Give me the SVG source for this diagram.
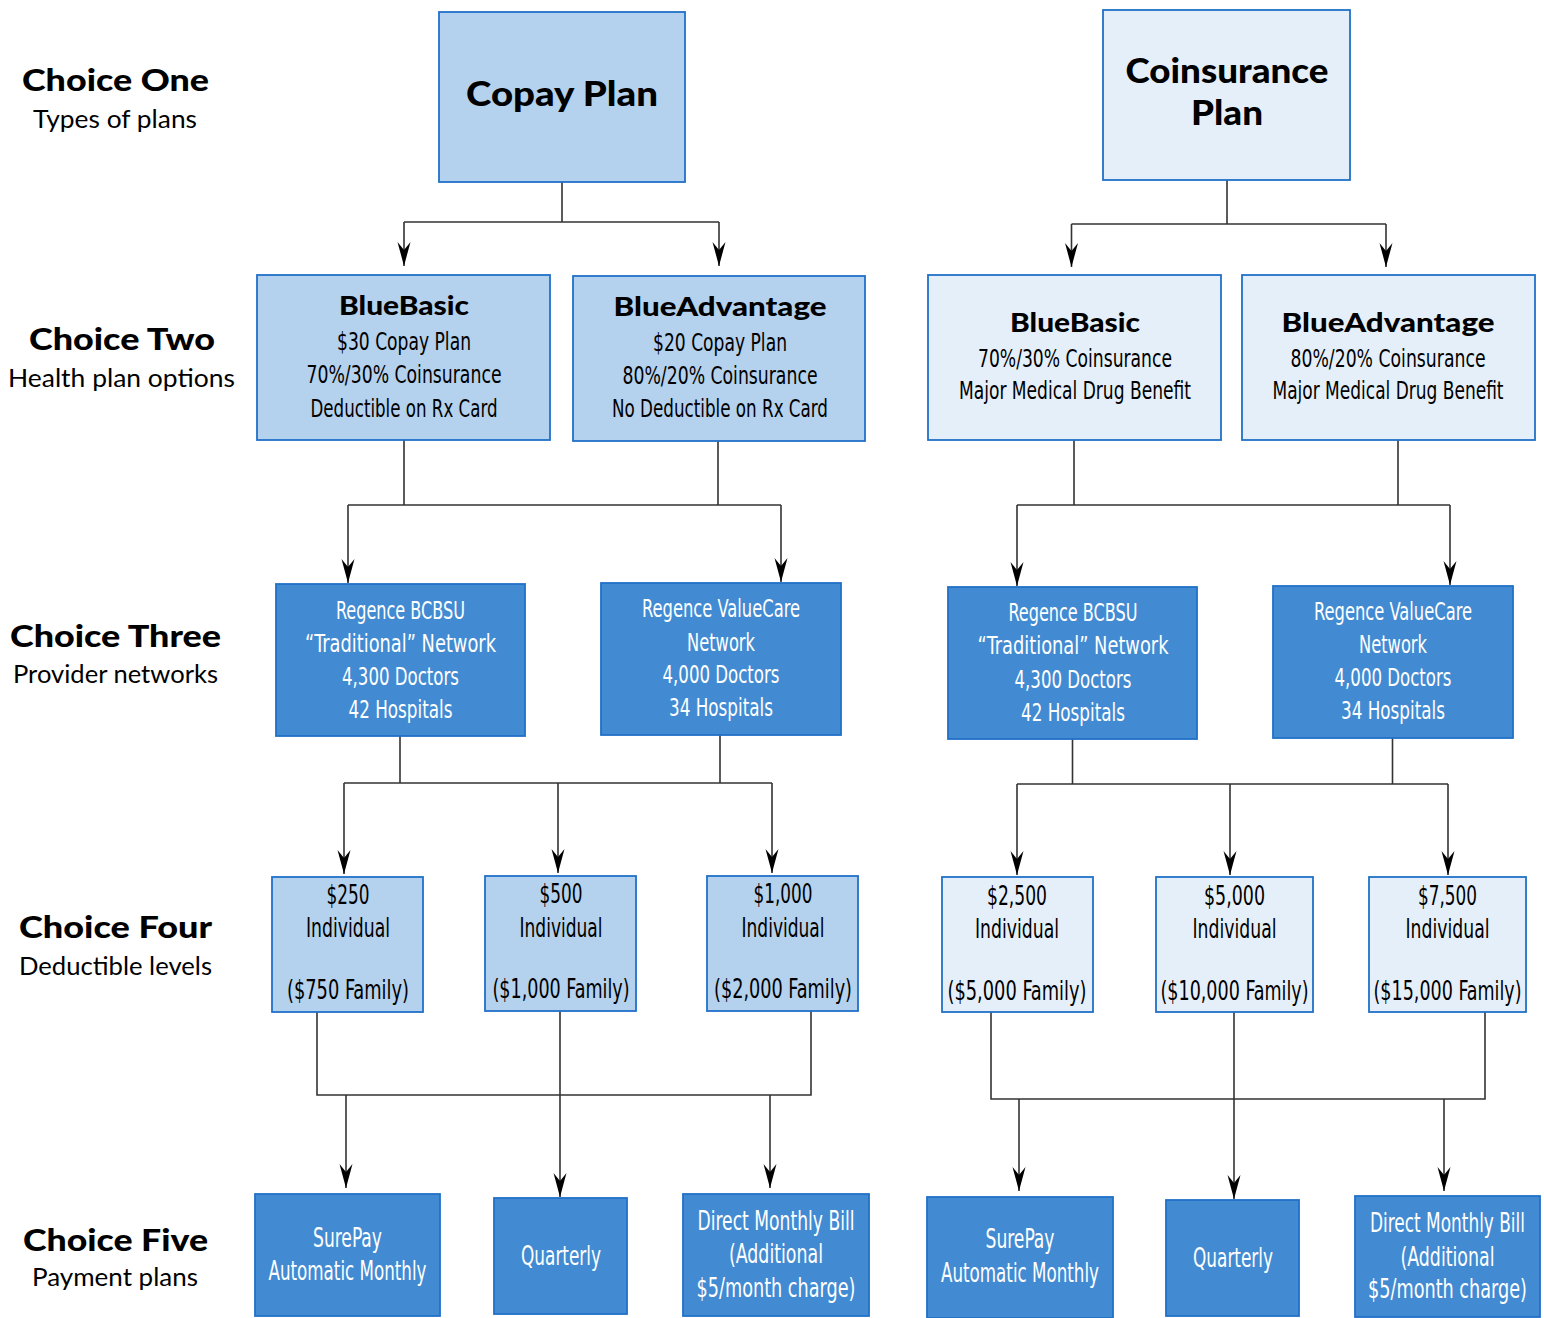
<svg xmlns="http://www.w3.org/2000/svg" width="1544" height="1318" viewBox="0 0 1544 1318">
<defs>
<style>
.bg{fill:#ffffff}
.lt{fill:#b4d1ed;stroke:#2170c8;stroke-width:1.8}
.vl{fill:#e5eff9;stroke:#2170c8;stroke-width:1.8}
.dk{fill:#428bd2;stroke:#2170c8;stroke-width:1.8}
text{text-anchor:middle}
.hb{font-family:"Lato","DejaVu Sans",sans-serif;font-weight:900;fill:#000}
.h1{font-size:34px}
.h2{font-size:27px}
.lab{font-size:30px}
.rg{font-family:"Lato","Liberation Sans",sans-serif;font-weight:400;font-size:25px;fill:#000}
.cd{font-family:"Liberation Sans Narrow","DejaVu Sans Condensed","Roboto Condensed","Liberation Sans",sans-serif;font-stretch:condensed;font-size:25px;fill:#000}
.c4{font-size:26px}
.w{fill:#ffffff}
.cn{fill:none;stroke:#333333;stroke-width:1.6}
</style>
<marker id="ah" viewBox="-25 -7 26 14" refX="0" refY="0" markerWidth="26" markerHeight="14" markerUnits="userSpaceOnUse" orient="auto">
<path d="M0,0 L-24,-6.5 L-16,0 L-24,6.5 Z" fill="#000"/>
</marker>
</defs>
<rect class="bg" x="0" y="0" width="1544" height="1318"/>

<g id="labels">
<g id="label-choice-one">
<text class="hb lab" x="115.5" y="91" textLength="187" lengthAdjust="spacingAndGlyphs">Choice One</text>
<text class="rg" x="115" y="128" textLength="164" lengthAdjust="spacingAndGlyphs">Types of plans</text>
</g>
<g id="label-choice-two">
<text class="hb lab" x="122" y="350" textLength="186" lengthAdjust="spacingAndGlyphs">Choice Two</text>
<text class="rg" x="121.5" y="387" textLength="227" lengthAdjust="spacingAndGlyphs">Health plan options</text>
</g>
<g id="label-choice-three">
<text class="hb lab" x="115.5" y="647" textLength="211" lengthAdjust="spacingAndGlyphs">Choice Three</text>
<text class="rg" x="115.5" y="683" textLength="205" lengthAdjust="spacingAndGlyphs">Provider networks</text>
</g>
<g id="label-choice-four">
<text class="hb lab" x="115.5" y="938" textLength="193" lengthAdjust="spacingAndGlyphs">Choice Four</text>
<text class="rg" x="115.5" y="975" textLength="193" lengthAdjust="spacingAndGlyphs">Deductible levels</text>
</g>
<g id="label-choice-five">
<text class="hb lab" x="115.5" y="1251" textLength="185" lengthAdjust="spacingAndGlyphs">Choice Five</text>
<text class="rg" x="115" y="1286" textLength="166" lengthAdjust="spacingAndGlyphs">Payment plans</text>
</g>
</g>

<g id="connectors">
<path class="cn" d="M562,182 V222 M404,222 H719"/>
<path class="cn" marker-end="url(#ah)" d="M404,222 V266"/>
<path class="cn" marker-end="url(#ah)" d="M719,222 V266"/>
<path class="cn" d="M1227,180 V224 M1071.5,224 H1386"/>
<path class="cn" marker-end="url(#ah)" d="M1071.5,224 V267"/>
<path class="cn" marker-end="url(#ah)" d="M1386,224 V267"/>
<path class="cn" d="M404,440 V505 M718,441 V505 M348,505 H781"/>
<path class="cn" marker-end="url(#ah)" d="M348,505 V583"/>
<path class="cn" marker-end="url(#ah)" d="M781,505 V582"/>
<path class="cn" d="M1074,440 V505 M1398,440 V505 M1017,505 H1450"/>
<path class="cn" marker-end="url(#ah)" d="M1017,505 V586"/>
<path class="cn" marker-end="url(#ah)" d="M1450,505 V585"/>
<path class="cn" d="M400,736 V783 M720,735 V783 M344,783 H772"/>
<path class="cn" marker-end="url(#ah)" d="M344,783 V874"/>
<path class="cn" marker-end="url(#ah)" d="M558,783 V873"/>
<path class="cn" marker-end="url(#ah)" d="M772,783 V873"/>
<path class="cn" d="M1072.5,739 V784 M1392.5,738 V784 M1017,784 H1448"/>
<path class="cn" marker-end="url(#ah)" d="M1017,784 V875"/>
<path class="cn" marker-end="url(#ah)" d="M1230,784 V875"/>
<path class="cn" marker-end="url(#ah)" d="M1448,784 V875"/>
<path class="cn" d="M317,1012 V1095 H811 V1011"/>
<path class="cn" marker-end="url(#ah)" d="M346,1095 V1188"/>
<path class="cn" marker-end="url(#ah)" d="M560,1011 V1197"/>
<path class="cn" marker-end="url(#ah)" d="M770,1095 V1188"/>
<path class="cn" d="M991,1012 V1099 H1485 V1012"/>
<path class="cn" marker-end="url(#ah)" d="M1019,1099 V1191"/>
<path class="cn" marker-end="url(#ah)" d="M1234,1012 V1199"/>
<path class="cn" marker-end="url(#ah)" d="M1444,1099 V1191"/>
</g>

<g id="copay-plan">
<rect class="lt" x="439" y="12" width="246" height="170"/>
<text class="hb h1" x="562" y="106" textLength="192" lengthAdjust="spacingAndGlyphs">Copay Plan</text>
</g>
<g id="coinsurance-plan">
<rect class="vl" x="1103" y="10" width="247" height="170"/>
<text class="hb h1" x="1227" y="83" textLength="203" lengthAdjust="spacingAndGlyphs">Coinsurance</text>
<text class="hb h1" x="1227" y="125" textLength="72" lengthAdjust="spacingAndGlyphs">Plan</text>
</g>

<g id="copay-bluebasic">
<rect class="lt" x="257" y="275" width="293" height="165"/>
<text class="hb h2" x="404" y="315" textLength="130" lengthAdjust="spacingAndGlyphs">BlueBasic</text>
<text class="cd" x="404" y="350" textLength="134" lengthAdjust="spacingAndGlyphs">$30 Copay Plan</text>
<text class="cd" x="404" y="383" textLength="195" lengthAdjust="spacingAndGlyphs">70%/30% Coinsurance</text>
<text class="cd" x="404" y="417" textLength="187" lengthAdjust="spacingAndGlyphs">Deductible on Rx Card</text>
</g>
<g id="copay-blueadvantage">
<rect class="lt" x="573" y="276" width="292" height="165"/>
<text class="hb h2" x="720" y="316" textLength="213" lengthAdjust="spacingAndGlyphs">BlueAdvantage</text>
<text class="cd" x="720" y="351" textLength="134" lengthAdjust="spacingAndGlyphs">$20 Copay Plan</text>
<text class="cd" x="720" y="384" textLength="195" lengthAdjust="spacingAndGlyphs">80%/20% Coinsurance</text>
<text class="cd" x="720" y="417" textLength="216" lengthAdjust="spacingAndGlyphs">No Deductible on Rx Card</text>
</g>
<g id="coins-bluebasic">
<rect class="vl" x="928" y="275" width="293" height="165"/>
<text class="hb h2" x="1075" y="332" textLength="130" lengthAdjust="spacingAndGlyphs">BlueBasic</text>
<text class="cd" x="1075" y="367" textLength="194" lengthAdjust="spacingAndGlyphs">70%/30% Coinsurance</text>
<text class="cd" x="1075" y="399" textLength="232" lengthAdjust="spacingAndGlyphs">Major Medical Drug Benefit</text>
</g>
<g id="coins-blueadvantage">
<rect class="vl" x="1242" y="275" width="293" height="165"/>
<text class="hb h2" x="1388" y="332" textLength="213" lengthAdjust="spacingAndGlyphs">BlueAdvantage</text>
<text class="cd" transform="translate(1388,367) scale(0.7,1)" x="0" y="0" textLength="278.6" lengthAdjust="spacingAndGlyphs">80%/20% Coinsurance</text>
<text class="cd" transform="translate(1388,399) scale(0.7,1)" x="0" y="0" textLength="330" lengthAdjust="spacingAndGlyphs">Major Medical Drug Benefit</text>
</g>

<g id="copay-traditional-network">
<rect class="dk" x="276" y="584" width="249" height="152"/>
<text class="cd w" x="400.5" y="619" textLength="129" lengthAdjust="spacingAndGlyphs">Regence BCBSU</text>
<text class="cd w" x="400.5" y="652" textLength="191" lengthAdjust="spacingAndGlyphs">“Traditional” Network</text>
<text class="cd w" x="400.5" y="685" textLength="117" lengthAdjust="spacingAndGlyphs">4,300 Doctors</text>
<text class="cd w" x="400.5" y="718" textLength="104" lengthAdjust="spacingAndGlyphs">42 Hospitals</text>
</g>
<g id="copay-valuecare-network">
<rect class="dk" x="601" y="583" width="240" height="152"/>
<text class="cd w" x="721" y="617" textLength="158" lengthAdjust="spacingAndGlyphs">Regence ValueCare</text>
<text class="cd w" x="721" y="651" textLength="68" lengthAdjust="spacingAndGlyphs">Network</text>
<text class="cd w" x="721" y="683" textLength="117" lengthAdjust="spacingAndGlyphs">4,000 Doctors</text>
<text class="cd w" x="721" y="716" textLength="104" lengthAdjust="spacingAndGlyphs">34 Hospitals</text>
</g>
<g id="coins-traditional-network">
<rect class="dk" x="948" y="587" width="249" height="152"/>
<text class="cd w" x="1073" y="621" textLength="129" lengthAdjust="spacingAndGlyphs">Regence BCBSU</text>
<text class="cd w" x="1073" y="654" textLength="191" lengthAdjust="spacingAndGlyphs">“Traditional” Network</text>
<text class="cd w" x="1073" y="688" textLength="117" lengthAdjust="spacingAndGlyphs">4,300 Doctors</text>
<text class="cd w" x="1073" y="721" textLength="104" lengthAdjust="spacingAndGlyphs">42 Hospitals</text>
</g>
<g id="coins-valuecare-network">
<rect class="dk" x="1273" y="586" width="240" height="152"/>
<text class="cd w" x="1393" y="620" textLength="158" lengthAdjust="spacingAndGlyphs">Regence ValueCare</text>
<text class="cd w" x="1393" y="653" textLength="68" lengthAdjust="spacingAndGlyphs">Network</text>
<text class="cd w" x="1393" y="686" textLength="117" lengthAdjust="spacingAndGlyphs">4,000 Doctors</text>
<text class="cd w" x="1393" y="719" textLength="104" lengthAdjust="spacingAndGlyphs">34 Hospitals</text>
</g>

<g id="ded-250">
<rect class="lt" x="272" y="877" width="151" height="135"/>
<text class="cd c4" x="348" y="904" textLength="43" lengthAdjust="spacingAndGlyphs">$250</text>
<text class="cd c4" x="348" y="937" textLength="84" lengthAdjust="spacingAndGlyphs">Individual</text>
<text class="cd c4" x="348" y="999" textLength="122" lengthAdjust="spacingAndGlyphs">($750 Family)</text>
</g>
<g id="ded-500">
<rect class="lt" x="485" y="876" width="151" height="135"/>
<text class="cd c4" x="561" y="903" textLength="43" lengthAdjust="spacingAndGlyphs">$500</text>
<text class="cd c4" x="561" y="937" textLength="83" lengthAdjust="spacingAndGlyphs">Individual</text>
<text class="cd c4" x="561" y="998" textLength="137" lengthAdjust="spacingAndGlyphs">($1,000 Family)</text>
</g>
<g id="ded-1000">
<rect class="lt" x="707" y="876" width="151" height="135"/>
<text class="cd c4" x="783" y="903" textLength="59" lengthAdjust="spacingAndGlyphs">$1,000</text>
<text class="cd c4" x="783" y="937" textLength="83" lengthAdjust="spacingAndGlyphs">Individual</text>
<text class="cd c4" x="783" y="998" textLength="138" lengthAdjust="spacingAndGlyphs">($2,000 Family)</text>
</g>
<g id="ded-2500">
<rect class="vl" x="942" y="877" width="151" height="135"/>
<text class="cd c4" x="1017" y="905" textLength="60" lengthAdjust="spacingAndGlyphs">$2,500</text>
<text class="cd c4" x="1017" y="938" textLength="84" lengthAdjust="spacingAndGlyphs">Individual</text>
<text class="cd c4" x="1017" y="1000" textLength="139" lengthAdjust="spacingAndGlyphs">($5,000 Family)</text>
</g>
<g id="ded-5000">
<rect class="vl" x="1156" y="877" width="157" height="135"/>
<text class="cd c4" x="1234.5" y="905" textLength="61" lengthAdjust="spacingAndGlyphs">$5,000</text>
<text class="cd c4" x="1234.5" y="938" textLength="84" lengthAdjust="spacingAndGlyphs">Individual</text>
<text class="cd c4" x="1234.5" y="1000" textLength="148" lengthAdjust="spacingAndGlyphs">($10,000 Family)</text>
</g>
<g id="ded-7500">
<rect class="vl" x="1369" y="877" width="157" height="135"/>
<text class="cd c4" x="1447.5" y="905" textLength="59" lengthAdjust="spacingAndGlyphs">$7,500</text>
<text class="cd c4" x="1447.5" y="938" textLength="84" lengthAdjust="spacingAndGlyphs">Individual</text>
<text class="cd c4" transform="translate(1447.5,1000) scale(0.7,1)" x="0" y="0" textLength="211.4" lengthAdjust="spacingAndGlyphs">($15,000 Family)</text>
</g>

<g id="copay-surepay">
<rect class="dk" x="255" y="1194" width="185" height="122"/>
<text class="cd c4 w" x="347.5" y="1247" textLength="69" lengthAdjust="spacingAndGlyphs">SurePay</text>
<text class="cd c4 w" x="347.5" y="1280" textLength="158" lengthAdjust="spacingAndGlyphs">Automatic Monthly</text>
</g>
<g id="copay-quarterly">
<rect class="dk" x="494" y="1198" width="133" height="116"/>
<text class="cd c4 w" x="561" y="1265" textLength="80" lengthAdjust="spacingAndGlyphs">Quarterly</text>
</g>
<g id="copay-direct-bill">
<rect class="dk" x="683" y="1194" width="186" height="122"/>
<text class="cd c4 w" x="776" y="1230" textLength="157" lengthAdjust="spacingAndGlyphs">Direct Monthly Bill</text>
<text class="cd c4 w" x="776" y="1263" textLength="94" lengthAdjust="spacingAndGlyphs">(Additional</text>
<text class="cd c4 w" x="776" y="1297" textLength="159" lengthAdjust="spacingAndGlyphs">$5/month charge)</text>
</g>
<g id="coins-surepay">
<rect class="dk" x="927" y="1197" width="186" height="121"/>
<text class="cd c4 w" x="1020" y="1248" textLength="69" lengthAdjust="spacingAndGlyphs">SurePay</text>
<text class="cd c4 w" x="1020" y="1282" textLength="158" lengthAdjust="spacingAndGlyphs">Automatic Monthly</text>
</g>
<g id="coins-quarterly">
<rect class="dk" x="1166" y="1200" width="133" height="116"/>
<text class="cd c4 w" x="1233" y="1267" textLength="80" lengthAdjust="spacingAndGlyphs">Quarterly</text>
</g>
<g id="coins-direct-bill">
<rect class="dk" x="1355" y="1196" width="185" height="121"/>
<text class="cd c4 w" transform="translate(1447.5,1232) scale(0.7,1)" x="0" y="0" textLength="221.4" lengthAdjust="spacingAndGlyphs">Direct Monthly Bill</text>
<text class="cd c4 w" transform="translate(1447.5,1266) scale(0.7,1)" x="0" y="0" textLength="134.3" lengthAdjust="spacingAndGlyphs">(Additional</text>
<text class="cd c4 w" transform="translate(1447.5,1298) scale(0.7,1)" x="0" y="0" textLength="227.1" lengthAdjust="spacingAndGlyphs">$5/month charge)</text>
</g>
</svg>
